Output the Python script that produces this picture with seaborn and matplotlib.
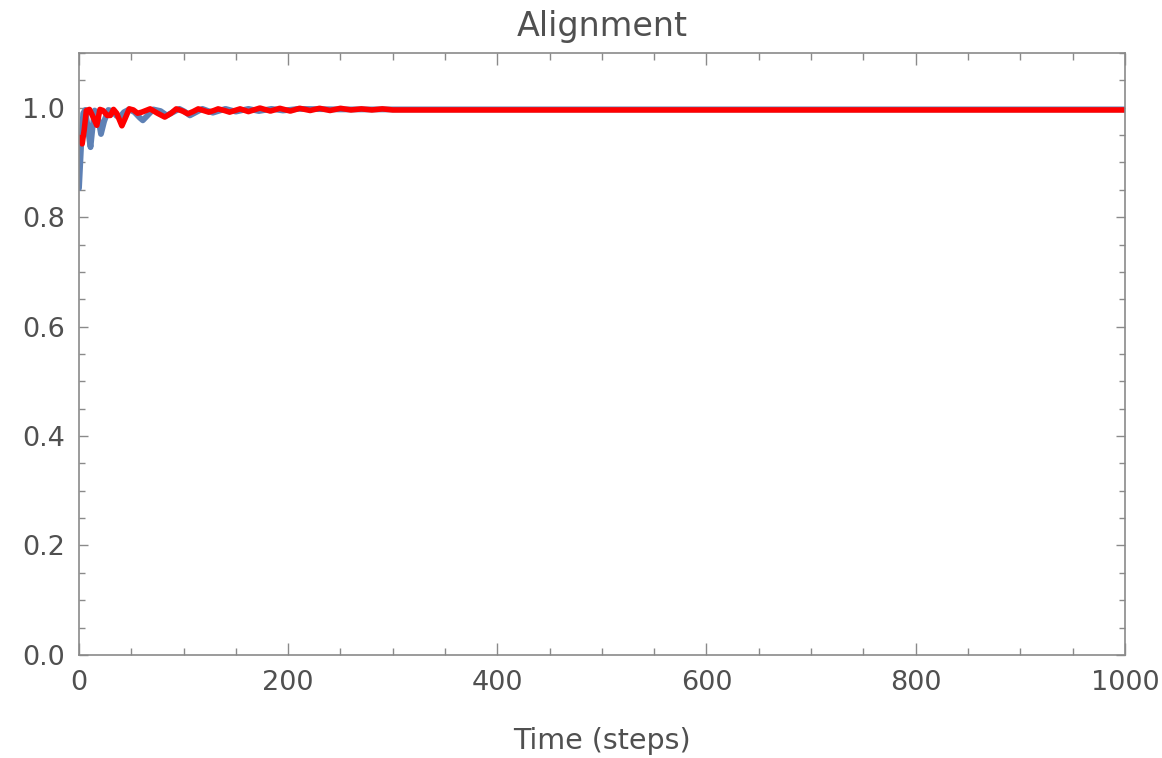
import matplotlib
matplotlib.use("Agg")
import matplotlib.pyplot as plt
from matplotlib.ticker import MultipleLocator
import seaborn as sns
import pandas as pd

# Alignment order parameter over time for two runs
blue_steps = [0, 2, 4, 6, 9, 11, 13, 15, 18, 21, 24, 28, 32, 36, 39, 43, 48, 53, 58, 61,
              65, 71, 78, 84, 90, 96, 101, 106, 111, 118, 128, 140, 150, 162, 172, 184,
              195, 210, 250, 300, 400, 1000]
blue_vals = [0.853, 0.93, 0.99, 0.996, 0.955, 0.928, 0.965, 0.995, 0.985, 0.952, 0.975,
             0.996, 0.994, 0.985, 0.983, 0.992, 0.997, 0.992, 0.982, 0.977, 0.985, 0.997,
             0.994, 0.986, 0.992, 0.998, 0.993, 0.986, 0.991, 0.998, 0.991, 0.998, 0.993,
             0.998, 0.994, 0.998, 0.995, 0.998, 0.997, 0.997, 0.997, 0.997]

red_steps = [0, 3, 5, 7, 10, 13, 17, 20, 23, 27, 30, 33, 36, 41, 44, 48, 52, 56, 60, 68,
             75, 82, 88, 93, 99, 104, 109, 114, 119, 124, 129, 133, 139, 144, 149, 154,
             162, 173, 183, 192, 202, 211, 221, 230, 240, 250, 260, 270, 280, 290, 300,
             1000]
red_vals = [0.946, 0.934, 0.96, 0.995, 0.997, 0.985, 0.968, 0.997, 0.995, 0.986, 0.986,
            0.997, 0.99, 0.967, 0.98, 0.998, 0.996, 0.99, 0.992, 0.998, 0.99, 0.983, 0.99,
            0.998, 0.994, 0.989, 0.993, 0.998, 0.995, 0.992, 0.995, 0.998, 0.995, 0.992,
            0.995, 0.998, 0.993, 0.9995, 0.994, 0.999, 0.994, 0.999, 0.995, 0.999, 0.995,
            0.999, 0.996, 0.998, 0.996, 0.998, 0.996, 0.996]

x_ticks = [0, 200, 400, 600, 800, 1000]
y_ticks = [0.0, 0.2, 0.4, 0.6, 0.8, 1.0]

blue_df = pd.DataFrame({"step": blue_steps, "alignment": blue_vals})
red_df = pd.DataFrame({"step": red_steps, "alignment": red_vals})

sns.set_theme(style="white")
plt.rcParams["font.family"] = ["DejaVu Sans"]

text_color = "#505050"
frame_color = "#8a8a8a"

fig = plt.figure(figsize=(11.62, 7.58), dpi=100)
ax = fig.add_axes([0.068, 0.136, 0.900, 0.794])

sns.lineplot(data=blue_df, x="step", y="alignment", ax=ax, color="#5E81B5",
             linewidth=4.2, solid_joinstyle="round", solid_capstyle="round")
sns.lineplot(data=red_df, x="step", y="alignment", ax=ax, color="#FF0000",
             linewidth=4.0, solid_joinstyle="round", solid_capstyle="round")

ax.set_xlim(0, 1000)
ax.set_ylim(0, 1.1)
ax.set_xticks(x_ticks)
ax.set_xticklabels([str(t) for t in x_ticks])
ax.set_yticks(y_ticks)
ax.set_yticklabels([f"{t:.1f}" for t in y_ticks])
ax.xaxis.set_minor_locator(MultipleLocator(50))
ax.yaxis.set_minor_locator(MultipleLocator(0.05))

for side in ["left", "right", "top", "bottom"]:
    ax.spines[side].set_visible(True)
    ax.spines[side].set_color(frame_color)
    ax.spines[side].set_linewidth(1.2)

ax.tick_params(axis="x", which="major", direction="in", length=8.6, width=1.0,
               color=frame_color, top=True, bottom=True, labelsize=19.5,
               labelcolor=text_color, pad=11)
ax.tick_params(axis="x", which="minor", direction="in", length=4.8, width=1.0,
               color=frame_color, top=True, bottom=True)
ax.tick_params(axis="y", which="major", direction="in", length=6.5, width=1.0,
               color=frame_color, left=True, right=True, labelsize=19.5,
               labelcolor=text_color, pad=10)
ax.tick_params(axis="y", which="minor", direction="in", length=4.6, width=1.0,
               color=frame_color, left=True, right=True)

ax.set_xlabel("Time (steps)", fontsize=20.5, color=text_color, labelpad=22)
ax.set_ylabel("")
ax.set_title("Alignment", fontsize=24, color=text_color, pad=12)
ax.grid(False)

fig.savefig("out.png", dpi=100, facecolor="white")
